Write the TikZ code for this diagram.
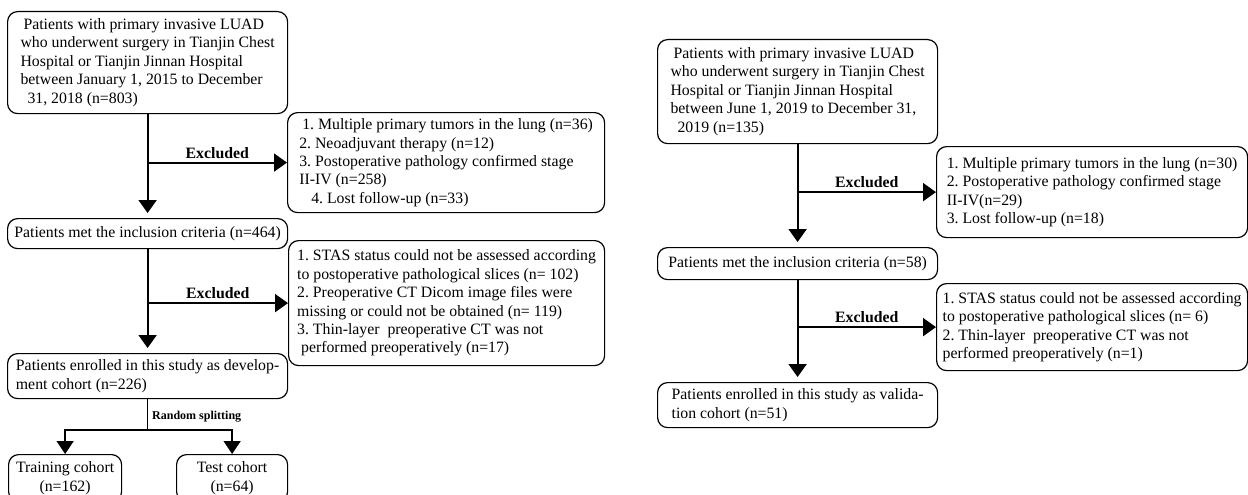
\documentclass[tikz,border=0pt]{standalone}
\usepackage{fontspec}
\setmainfont{Liberation Serif}
\usepackage{tikz}
\usetikzlibrary{arrows.meta,calc}

\begin{document}
\begin{tikzpicture}[x=1pt, y=-1pt,
  box/.style={draw, rounded corners=10pt, line width=1.2pt, align=left, inner xsep=2pt, inner ysep=0pt,
    anchor=north west, font=\fontsize{15.8}{18.4}\selectfont\frenchspacing},
  flow/.style={line width=2pt, -{Triangle[length=13pt,width=18pt]}},
  drop/.style={line width=1.4pt, -{Triangle[length=13pt,width=17pt]}},
  lbl/.style={font=\fontsize{15.8}{18.4}\selectfont\bfseries, inner sep=3pt},
  splitlbl/.style={font=\fontsize{12}{14}\selectfont\bfseries, inner sep=4pt}]
\useasboundingbox (0,0) rectangle (1248,495);

% development cohort
\node[box, minimum width=280pt, minimum height=102pt] (devAll) at (7,11)
  {\hspace*{3pt}Patients with primary invasive LUAD\\
   who underwent surgery in Tianjin Chest\\
   Hospital or Tianjin Jinnan Hospital\\
   between January 1, 2015 to December\\
   \hspace*{7pt}31, 2018 (n=803)};
\node[box, minimum width=317pt, minimum height=100pt] (devExcl1) at (287,112)
  {\hspace*{3pt}1. Multiple primary tumors in the lung (n=36)\\
   2. Neoadjuvant therapy (n=12)\\
   3. Postoperative pathology confirmed stage\\
   II-IV (n=258)\\
   \hspace*{12pt}4. Lost follow-up (n=33)};
\node[box, minimum width=280pt, minimum height=30pt] (devMet) at (7,218)
  {Patients met the inclusion criteria (n=464)};
\node[box, minimum width=316pt, minimum height=125pt] (devExcl2) at (288,240)
  {1. STAS status could not be assessed according\\
   to postoperative pathological slices (n= 102)\\
   2. Preoperative CT Dicom image files were\\
   missing or could not be obtained (n= 119)\\
   3. Thin-layer~ preoperative CT was not\\
   \hspace*{4pt}performed preoperatively (n=17)};
\node[box, minimum width=280pt, minimum height=45pt] (devCohort) at (7,353)
  {Patients enrolled in this study as develop-\\
   ment cohort (n=226)};
\node[box, align=center, minimum width=113pt, minimum height=47pt] (train) at (8,454)
  {Training cohort\\(n=162)};
\node[box, align=center, minimum width=111pt, minimum height=47pt] (test) at (176,454)
  {Test cohort\\(n=64)};

\draw[flow, shorten >=5pt] (devAll.south) -- (devMet.north);
\draw[flow] (devAll.south |- devExcl1.west) -- node[above, lbl] {Excluded} (devExcl1.west);
\draw[flow, shorten >=5pt] (devMet.south) -- (devCohort.north);
\draw[flow] (devMet.south |- devExcl2.west) -- node[above, lbl] {Excluded} (devExcl2.west);

\coordinate (split) at (devCohort.south |- 0,430);
\draw[line width=1.2pt] (devCohort.south) -- node[right, pos=0.56, splitlbl] {Random splitting} (split);
\draw[drop] (split) -| (train.north);
\draw[drop] (split) -| (test.north);

% validation cohort
\node[box, minimum width=280pt, minimum height=104pt] (valAll) at (657,39)
  {\hspace*{3pt}Patients with primary invasive LUAD\\
   who underwent surgery in Tianjin Chest\\
   Hospital or Tianjin Jinnan Hospital\\
   between June 1, 2019 to December 31,\\
   \hspace*{7pt}2019 (n=135)};
\node[box, minimum width=311pt, minimum height=91pt] (valExcl1) at (936,146)
  {1. Multiple primary tumors in the lung (n=30)\\
   2. Postoperative pathology confirmed stage\\
   II-IV(n=29)\\
   3. Lost follow-up (n=18)};
\node[box, minimum width=280pt, minimum height=32pt] (valMet) at (657,247)
  {Patients met the inclusion criteria (n=58)};
\node[box, minimum width=311pt, minimum height=87pt] (valExcl2) at (936,283)
  {1. STAS status could not be assessed according\\
   to postoperative pathological slices (n= 6)\\
   2. Thin-layer~ preoperative CT was not\\
   performed preoperatively (n=1)};
\node[box, minimum width=280pt, minimum height=45pt] (valCohort) at (657,382)
  {Patients enrolled in this study as valida-\\
   tion cohort (n=51)};

\draw[flow, shorten >=5pt] (valAll.south) -- (valMet.north);
\draw[flow] (valAll.south |- valExcl1.west) -- node[above, lbl] {Excluded} (valExcl1.west);
\draw[flow, shorten >=5pt] (valMet.south) -- (valCohort.north);
\draw[flow] (valMet.south |- valExcl2.west) -- node[above, lbl] {Excluded} (valExcl2.west);
\end{tikzpicture}
\end{document}
